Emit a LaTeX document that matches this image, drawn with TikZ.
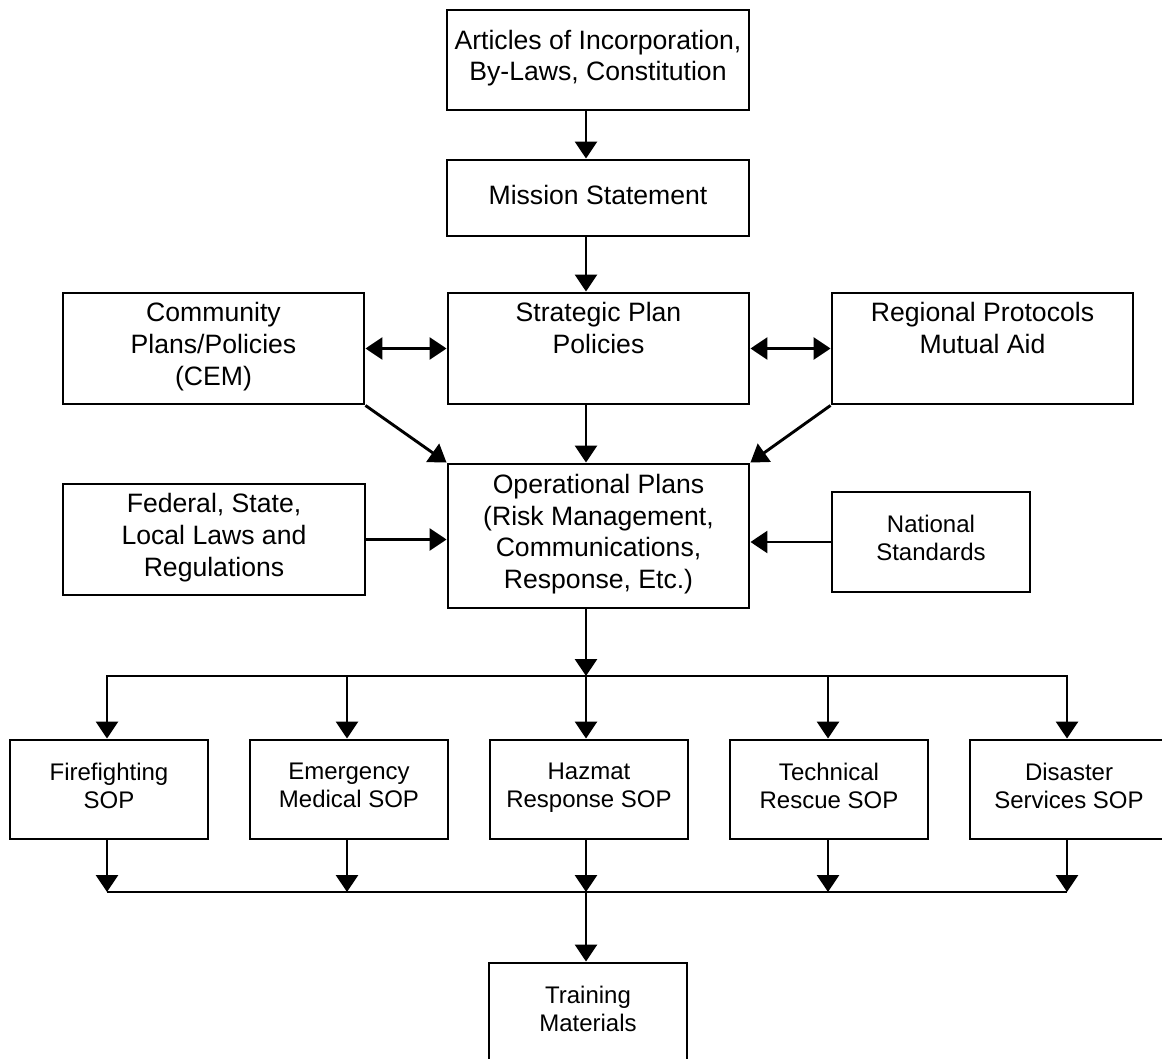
\documentclass[tikz,border=0pt]{standalone}
\usepackage{fontspec}
\setmainfont{Liberation Sans}
\usetikzlibrary{arrows.meta,calc}
\newcommand\bigtxt{\fontsize{26.6pt}{31.7pt}\selectfont}
\newcommand\smalltxt{\fontsize{24pt}{28pt}\selectfont}
\tikzset{
  box/.style={draw, line width=2.9pt, inner sep=0pt, align=center, font=\bigtxt,
    execute at begin node={\strut}, execute at end node={\strut}},
  sbox/.style={box, font=\smalltxt, minimum width=198pt, minimum height=99pt},
  conn/.style={line width=2.9pt, -{Triangle[length=17pt,width=22pt]}},
  conn2/.style={line width=2.9pt, {Triangle[length=17pt,width=22pt]}-{Triangle[length=17pt,width=22pt]}},
  bus/.style={line width=2.9pt}
}
\begin{document}
\begin{tikzpicture}[x=1pt,y=-1pt]
\clip (0,0) rectangle (1162,1059);
\fill[white] (0,0) rectangle (1162,1059);
\coordinate (sp) at (586,0);
% boxes
\node[box, minimum width=302pt, minimum height=100pt] (art) at (598,60) {Articles of Incorporation,\\By-Laws, Constitution};
\node[box, minimum width=302pt, minimum height=76pt] (mis) at (598,198) {Mission Statement};
\node[box, minimum width=301pt, minimum height=111pt] (str) at (598.5,348.5) {Strategic Plan\\Policies\\};
\node[box, minimum width=301pt, minimum height=111pt] (com) at (213.5,348.5) {Community\\Plans/Policies\\(CEM)};
\node[box, minimum width=301pt, minimum height=111pt] (reg) at (982.5,348.5) {Regional Protocols\\Mutual Aid\\};
\node[box, minimum width=301pt, minimum height=144pt] (ops) at (598.5,536) {Operational Plans\\(Risk Management,\\Communications,\\Response, Etc.)};
\node[box, minimum width=302pt, minimum height=111pt] (fed) at (214,539.5) {Federal, State,\\Local Laws and\\Regulations};
\node[box, font=\smalltxt, minimum width=198pt, minimum height=100pt] (nat) at (931,542) {National\\Standards};
\node[sbox] (ff) at (109,789.5) {Firefighting\\SOP};
\node[sbox] (em) at (349,789.5) {Emergency\\Medical SOP};
\node[sbox] (hz) at (589,789.5) {Hazmat\\Response SOP};
\node[sbox] (tr) at (829,789.5) {Technical\\Rescue SOP};
\node[sbox] (ds) at (1069,789.5) {Disaster\\Services SOP};
\node[sbox] (trn) at (588,1012.5) {Training\\Materials};
% bus coordinates
\coordinate (b1) at (107,676);
\coordinate (b2) at (347,676);
\coordinate (b3) at (586,676);
\coordinate (b4) at (828,676);
\coordinate (b5) at (1067,676);
\coordinate (c1) at (107,892);
\coordinate (c2) at (347,892);
\coordinate (c3) at (586,892);
\coordinate (c4) at (828,892);
\coordinate (c5) at (1067,892);
% vertical spine
\draw[conn] (art.south -| sp) -- (mis.north -| sp);
\draw[conn] (mis.south -| sp) -- (str.north -| sp);
\draw[conn] (str.south -| sp) -- (ops.north -| sp);
\draw[conn] (ops.south -| sp) -- (b3);
% side links
\draw[conn2] (com.east) -- (str.west);
\draw[conn2] (str.east) -- (reg.west);
\draw[conn] (com.south east) -- (ops.north west);
\draw[conn] (reg.south west) -- (ops.north east);
\draw[conn] (fed.east) -- (fed.east -| ops.west);
\draw[conn] (nat.west) -- (nat.west -| ops.east);
% top bus
\draw[conn2] (ff.north -| b1) -- (b1) -- (b5) -- (ds.north -| b5);
\draw[conn] (b2) -- (em.north -| b2);
\draw[conn] (b3) -- (hz.north -| b3);
\draw[conn] (b4) -- (tr.north -| b4);
% bottom bus
\draw[bus] (c1) -- (c5);
\draw[conn] (ff.south -| c1) -- (c1);
\draw[conn] (em.south -| c2) -- (c2);
\draw[conn] (hz.south -| c3) -- (c3);
\draw[conn] (tr.south -| c4) -- (c4);
\draw[conn] (ds.south -| c5) -- (c5);
\draw[conn] (c3) -- (trn.north -| c3);
\end{tikzpicture}
\end{document}
